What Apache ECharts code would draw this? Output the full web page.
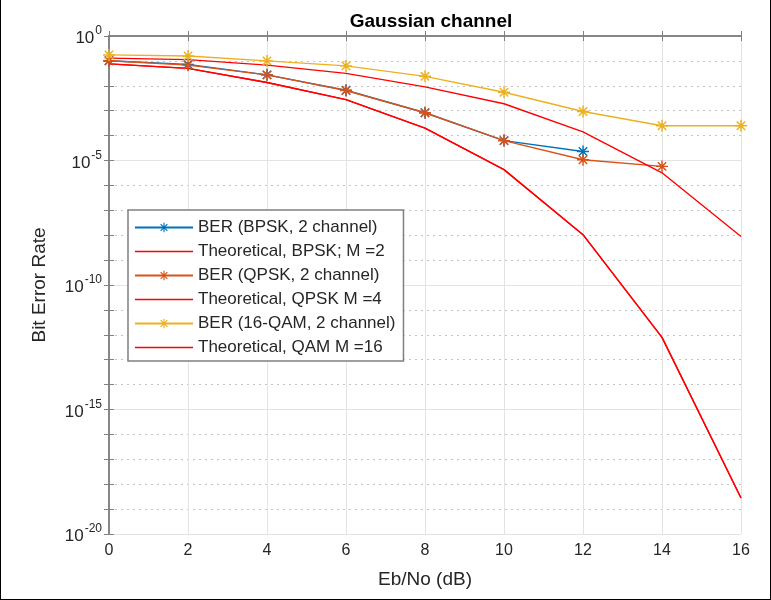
<!DOCTYPE html>
<html>
<head>
  <meta charset="utf-8" />
  <title>Gaussian channel</title>
  <script src="https://cdn.jsdelivr.net/npm/echarts@6.0.0/dist/echarts.min.js"></script>
  <style>
    body { margin: 0; background: #fff; }
    #frame { width: 771px; height: 600px; box-sizing: border-box; border-left: 1px solid #000; border-right: 1px solid #000; border-bottom: 1px solid #000; }
    #main { width: 100%; height: 100%; }
  </style>
</head>
<body>
  <div id="frame"><div id="main"></div></div>
  <script type="text/javascript">
    var myChart = echarts.init(document.getElementById('main'));

    // Eb/No (dB)
    let ebno = [0, 2, 4, 6, 8, 10, 12, 14, 16];
    // bit error rates
    let berBpsk = [0.102, 0.0724, 0.0275, 6.6e-3, 8.3e-4, 6.3e-5, 2.3e-5];
    let theoryBpsk = [0.0759, 0.050, 0.0135, 2.8e-3, 2.0e-4, 4.3e-6, 1.05e-8, 7.9e-13, 2.8e-19];
    let berQpsk = [0.102, 0.0676, 0.0275, 6.5e-3, 8.3e-4, 6.3e-5, 1.07e-5, 5.8e-6];
    let theoryQpsk = [0.0759, 0.050, 0.0135, 2.8e-3, 2.0e-4, 4.3e-6, 1.05e-8, 7.9e-13, 2.8e-19];
    let berQam = [0.174, 0.158, 0.1, 0.063, 0.024, 5.5e-3, 9.3e-4, 2.5e-4, 2.5e-4];
    let theoryQam = [0.129, 0.112, 0.0676, 0.0316, 9.1e-3, 1.9e-3, 1.4e-4, 3.2e-6, 8.9e-9];
    // decades labelled on the y axis (exponents)
    let yTicks = [0, -5, -10, -15, -20];

    let names = [
      'BER (BPSK, 2 channel)',
      'Theoretical, BPSK; M =2',
      'BER (QPSK, 2 channel)',
      'Theoretical, QPSK M =4',
      'BER (16-QAM, 2 channel)',
      'Theoretical, QAM M =16'
    ];

    let fontFamily = '"Liberation Sans", Arial, sans-serif';
    let axisColor = '#808080', textColor = '#262626';
    let majorGrid = '#e3e3e3', minorGrid = '#c4c4c4', clear = 'rgba(0,0,0,0)';

    // MATLAB-like asterisk marker
    let star = 'path://M44,0L56,0L56,100L44,100Z M0,44L100,44L100,56L0,56Z ' +
      'M19.24,10.76L89.24,80.76L80.76,89.24L10.76,19.24Z ' +
      'M89.24,19.24L19.24,89.24L10.76,80.76L80.76,10.76Z';
    // plain line for the legend of the theory curves
    let lineIcon = 'path://M0,0L58,0L58,1.5L0,1.5Z';

    function toPoints(vals) {
      return vals.map((v, i) => [ebno[i], Math.log10(v)]);
    }

    function berSeries(name, vals, color) {
      return {
        name: name, type: 'line', data: toPoints(vals),
        symbol: star, symbolSize: 12,
        itemStyle: { color: color },
        lineStyle: { color: color, width: 1.4 }
      };
    }

    function theorySeries(name, vals) {
      return {
        name: name, type: 'line', data: toPoints(vals),
        symbol: 'none',
        itemStyle: { color: '#ff0000' },
        lineStyle: { color: '#ff0000', width: 1.4 }
      };
    }

    let sharedY = {
      type: 'value', min: -20, max: 0, interval: 1,
      axisLine: { show: true, lineStyle: { color: axisColor, width: 1.5 } },
      axisTick: { show: true, inside: true, length: 5, lineStyle: { color: axisColor } }
    };

    var option = {
      backgroundColor: '#fff',
      animation: false,
      title: {
        text: 'Gaussian channel',
        left: 425, top: 7, textAlign: 'center',
        textStyle: { fontFamily: fontFamily, fontSize: 19, fontWeight: 'bold', color: '#000' }
      },
      grid: { left: 108, right: 29, top: 36, bottom: 65 },
      legend: {
        orient: 'vertical',
        left: 127, top: 210,
        padding: [9, 8, 5, 6],
        itemWidth: 58, itemHeight: 12, itemGap: 7,
        backgroundColor: '#fff',
        borderColor: axisColor, borderWidth: 1.5,
        textStyle: { fontFamily: fontFamily, fontSize: 17, lineHeight: 17, color: textColor },
        data: names.map((n, i) => (i % 2 === 1 ? { name: n, icon: lineIcon } : n))
      },
      xAxis: [{
        type: 'value', min: 0, max: 16, interval: 2,
        name: 'Eb/No (dB)', nameLocation: 'middle', nameGap: 36,
        nameTextStyle: { fontFamily: fontFamily, fontSize: 19, color: textColor },
        axisLine: { show: true, lineStyle: { color: axisColor, width: 1.5 } },
        axisTick: { show: true, inside: true, length: 5, lineStyle: { color: axisColor } },
        axisLabel: { margin: 9, fontFamily: fontFamily, fontSize: 16, color: textColor },
        splitLine: { show: true, lineStyle: { color: majorGrid, width: 1 } }
      }, {
        type: 'value', min: 0, max: 16, interval: 2, position: 'top',
        axisLine: { show: true, lineStyle: { color: axisColor, width: 1.5 } },
        axisTick: { show: true, inside: true, length: 5, lineStyle: { color: axisColor } },
        axisLabel: { show: false },
        splitLine: { show: false }
      }],
      yAxis: [Object.assign({}, sharedY, {
        position: 'left',
        name: 'Bit Error Rate', nameLocation: 'middle', nameGap: 60,
        nameTextStyle: { fontFamily: fontFamily, fontSize: 19, color: textColor },
        axisLabel: {
          margin: 7,
          formatter: function (v) {
            return yTicks.indexOf(v) >= 0 ? '{b|10}{s|' + v + '}' : '';
          },
          rich: {
            b: { fontFamily: fontFamily, fontSize: 17, color: textColor, verticalAlign: 'bottom', padding: [0, 1, 0, 0] },
            s: { fontFamily: fontFamily, fontSize: 12, color: textColor, verticalAlign: 'bottom', padding: [0, 0, 10, 0] }
          }
        },
        splitLine: { show: true, lineStyle: { color: [majorGrid, clear, clear, clear, clear], width: 1 } }
      }), Object.assign({}, sharedY, {
        position: 'right',
        axisLabel: { show: false },
        splitLine: { show: true, lineStyle: { color: [clear, minorGrid, minorGrid, minorGrid, minorGrid], width: 1, type: [2, 4] } }
      })],
      series: [
        berSeries(names[0], berBpsk, '#0072BD'),
        theorySeries(names[1], theoryBpsk),
        berSeries(names[2], berQpsk, '#D95319'),
        theorySeries(names[3], theoryQpsk),
        berSeries(names[4], berQam, '#EDB120'),
        theorySeries(names[5], theoryQam)
      ]
    };

    myChart.setOption(option);
  </script>
</body>
</html>
